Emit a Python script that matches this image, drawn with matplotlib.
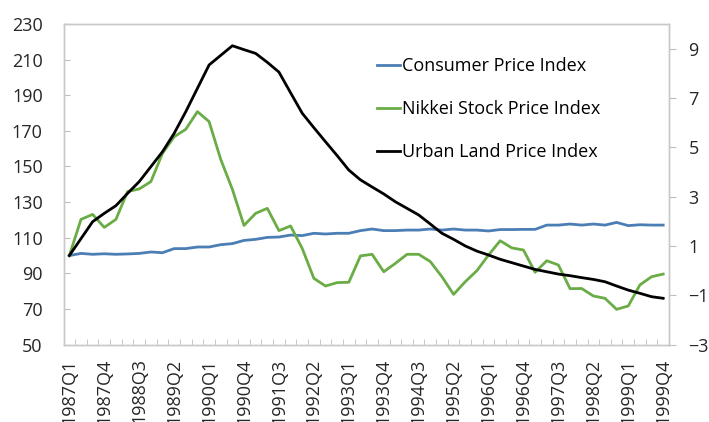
import numpy as np
import matplotlib
matplotlib.use("Agg")
import matplotlib.pyplot as plt

plt.rcParams['font.family'] = ['Open Sans', 'DejaVu Sans']

years = range(1987, 2000)
quarters = [f"{y}Q{q}" for y in years for q in range(1, 5)]

cpi = [100, 101.2, 100.7, 101.0, 100.7, 100.9, 101.2, 102.0, 101.6, 103.9,
       103.9, 104.8, 104.8, 106.1, 106.7, 108.5, 109.1, 110.2, 110.4, 111.5,
       111.2, 112.5, 112.1, 112.5, 112.5, 114.0, 114.9, 114.0, 114.0, 114.3,
       114.3, 114.9, 114.3, 114.9, 114.3, 114.3, 113.8, 114.6, 114.6, 114.7,
       114.7, 117.1, 117.1, 117.7, 117.1, 117.7, 117.1, 118.6, 116.8, 117.3,
       117.1, 117.1]
nikkei = [100, 120.3, 123.1, 115.8, 120.3, 135.9, 137.4, 141.5, 157.4, 166.7,
          170.9, 180.8, 175.2, 154.0, 137.2, 116.9, 123.7, 126.5, 114.0, 116.6,
          104.0, 87.2, 82.9, 84.8, 85.0, 99.8, 100.7, 90.9, 95.6, 100.7,
          100.7, 96.6, 88.1, 78.2, 85.3, 91.5, 100.3, 108.3, 104.3, 103.1,
          90.6, 97.1, 94.7, 81.4, 81.5, 77.3, 76.0, 69.8, 71.7, 83.5,
          88.1, 89.6]
land = [100, 109.5, 119.0, 123.7, 128.0, 134.9, 141.5, 149.9, 158.3, 168.6,
        180.8, 193.9, 207.0, 212.4, 217.8, 215.6, 213.5, 208.5, 203.0, 191.4,
        179.9, 171.8, 163.9, 156.1, 148.0, 142.5, 138.5, 134.6, 130.2, 126.5,
        122.8, 117.7, 112.5, 109.1, 105.4, 102.5, 100.3, 97.9, 96.0, 94.1,
        92.2, 90.9, 89.6, 88.7, 87.6, 86.6, 85.3, 82.9, 80.6, 78.8,
        76.9, 76.0]

fig = plt.figure(figsize=(7.09, 4.22), dpi=100)
ax = fig.add_axes([0.0896, 0.1834, 0.854, 0.7597])
x = np.arange(len(quarters))

ax.plot(x, cpi, color='#4a7eb5', lw=2.0, label='Consumer Price Index')
ax.plot(x, nikkei, color='#6aac46', lw=2.0, label='Nikkei Stock Price Index')
ax.plot(x, land, color='black', lw=2.0, label='Urban Land Price Index')

ax.set_xlim(-0.5, len(quarters) - 0.5)
ax.set_ylim(50, 230)
ax.set_yticks(range(50, 231, 20))
ax.set_xticks(x[::3])
ax.set_xticklabels(quarters[::3], rotation=90)
ax.set_xticks(np.arange(-0.5, len(quarters), 1), minor=True)
ax.tick_params(axis='x', which='major', length=0, pad=10, labelsize=13,
               labelcolor='#262626')
ax.tick_params(axis='x', which='minor', direction='in', length=4,
               color='#bfbfbf')
ax.tick_params(axis='y', direction='in', length=4, color='#bfbfbf',
               labelsize=13, labelcolor='#262626', pad=15)

ax2 = ax.twinx()
ax2.set_ylim(-3, 10)
ax2.set_yticks(range(-3, 10, 2))
ax2.tick_params(axis='y', direction='out', length=5, color='#bfbfbf',
                labelsize=13, labelcolor='#262626', pad=9)

for a in (ax, ax2):
    for s in a.spines.values():
        s.set_color('#c8c8c8')
        s.set_linewidth(1.0)

ax.legend(loc='upper left', bbox_to_anchor=(0.517, 0.897), frameon=False,
          fontsize=13, handlelength=1.3, handletextpad=0.1,
          labelspacing=1.38, borderaxespad=0, borderpad=0)

fig.savefig('out.png', dpi=100)
